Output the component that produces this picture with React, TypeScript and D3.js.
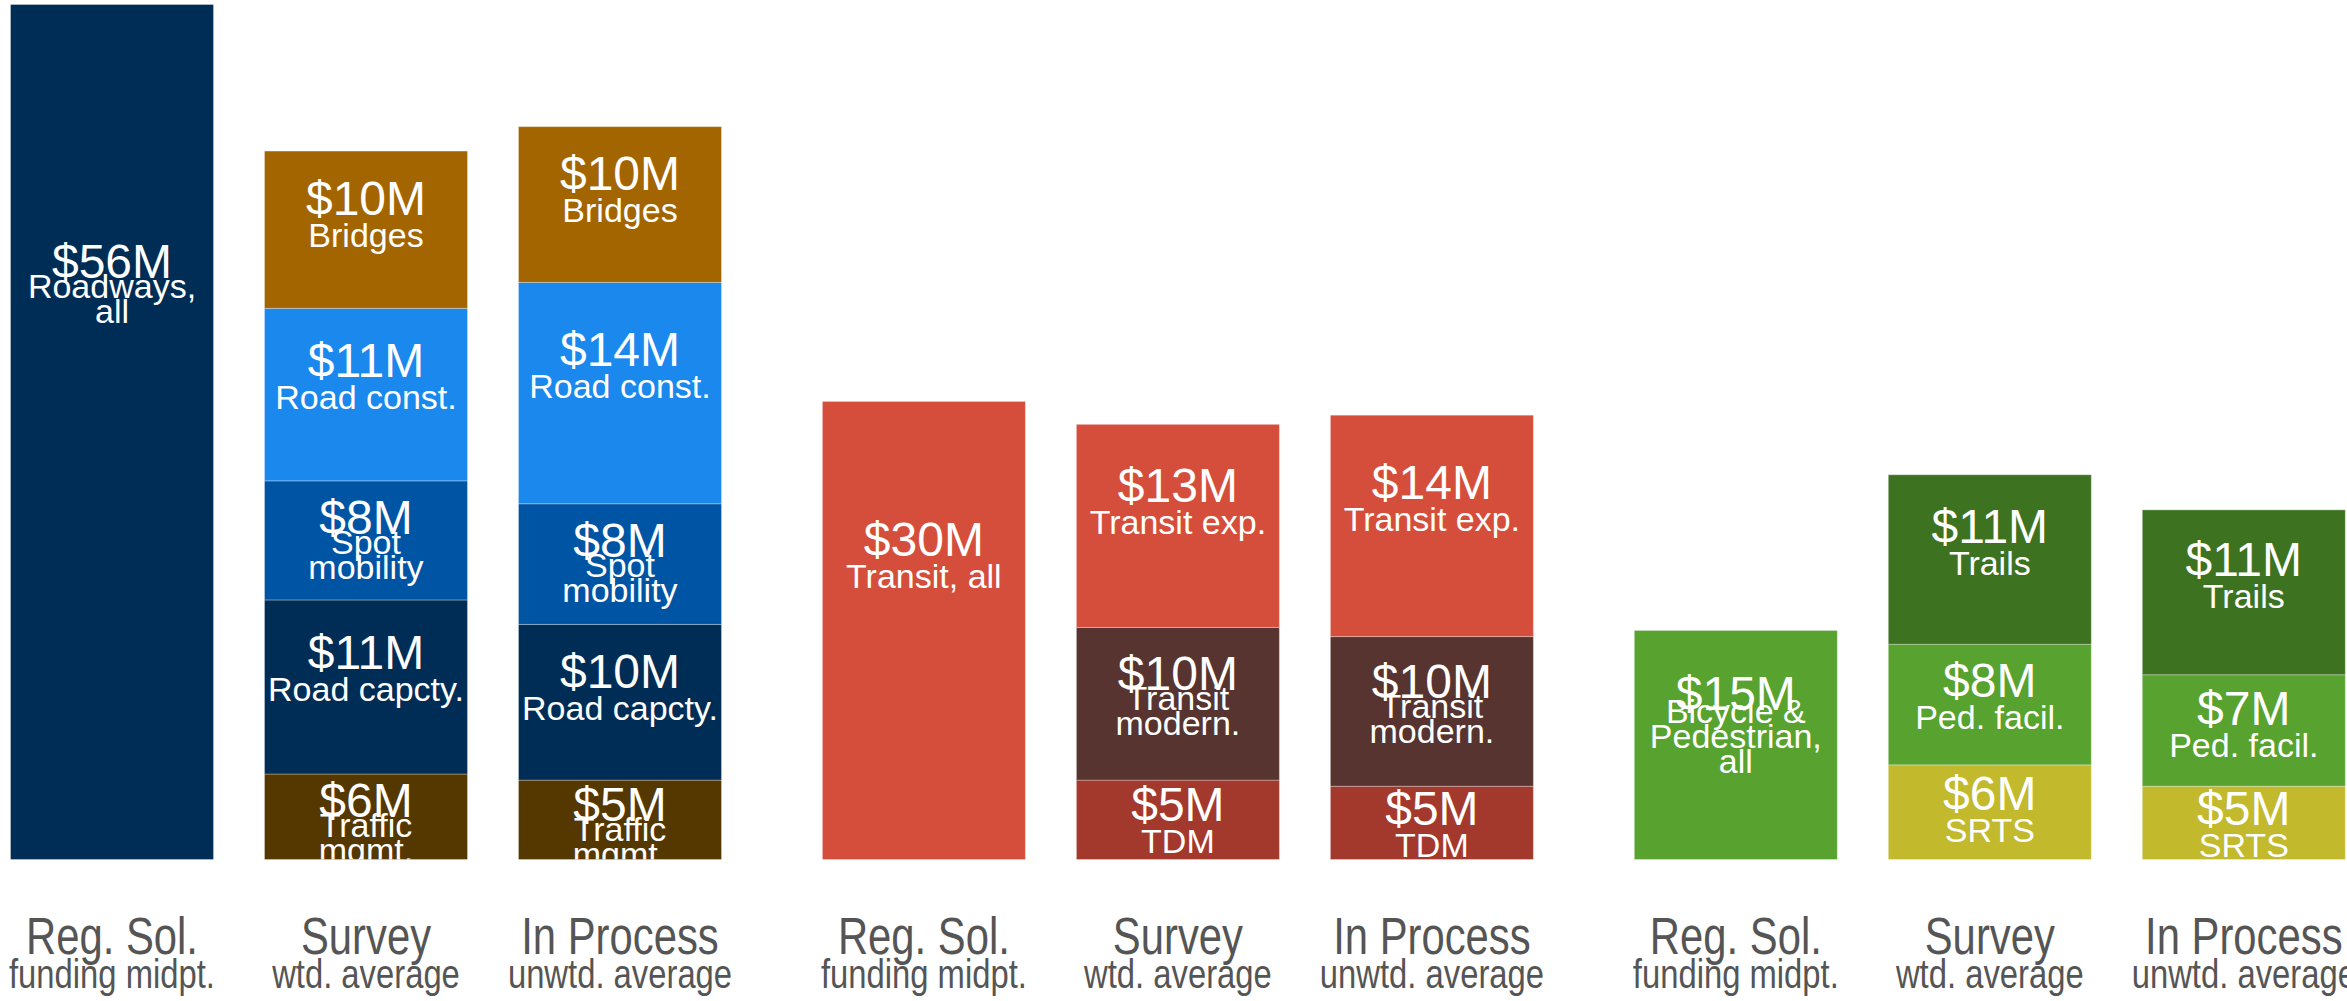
import * as d3 from "d3";

const groups = ["Roadways", "Transit", "Bike/Ped"];
const columns = ["Reg. Sol.", "Survey", "In Process"];
const columnSubs = ["funding midpt.", "wtd. average", "unwtd. average"];

// stacks are listed bottom to top
const roadwaysNames = [["Roadways,\nall"], ["Traffic\nmgmt.", "Road capcty.", "Spot\nmobility", "Road const.", "Bridges"]];
const roadwaysRegSol = [56];
const roadwaysSurvey = [5.6, 11.4, 7.8, 11.3, 10.3];
const roadwaysInProcess = [5.2, 10.2, 7.9, 14.5, 10.2];

const transitNames = [["Transit, all"], ["TDM", "Transit\nmodern.", "Transit exp."]];
const transitRegSol = [30];
const transitSurvey = [5.2, 10.0, 13.3];
const transitInProcess = [4.8, 9.8, 14.5];

const bikeNames = [["Bicycle &\nPedestrian,\nall"], ["SRTS", "Ped. facil.", "Trails"]];
const bikeRegSol = [15];
const bikeSurvey = [6.2, 7.9, 11.1];
const bikeInProcess = [4.8, 7.3, 10.8];

const colors = {
  "Roadways,\nall": "#002D56",
  Bridges: "#A36500",
  "Road const.": "#1B88EE",
  "Spot\nmobility": "#0054A4",
  "Road capcty.": "#002D56",
  "Traffic\nmgmt.": "#553700",
  "Transit, all": "#D54E3C",
  "Transit exp.": "#D54E3C",
  "Transit\nmodern.": "#573430",
  TDM: "#A3392C",
  "Bicycle &\nPedestrian,\nall": "#58A22F",
  Trails: "#3D7221",
  "Ped. facil.": "#58A22F",
  SRTS: "#C2B92C",
};

const groupData = [
  { names: roadwaysNames, bars: [roadwaysRegSol, roadwaysSurvey, roadwaysInProcess] },
  { names: transitNames, bars: [transitRegSol, transitSurvey, transitInProcess] },
  { names: bikeNames, bars: [bikeRegSol, bikeSurvey, bikeInProcess] },
];

// round half to even, as the source labels do ($14.5M -> $14M)
function fmt(v: number) {
  const f = Math.floor(v);
  const d = v - f;
  const r = d > 0.5 ? f + 1 : d < 0.5 ? f : f % 2 === 0 ? f : f + 1;
  return `$${r}M`;
}

const width = 2347;
const height = 1001;
const baseY = 859.5;
const font = "'Liberation Sans', Arial, sans-serif";

const nameOffsets = { 1: [32], 2: [20, 45], 3: [13, 38, 63] };

export default function App() {
  const x0 = d3.scaleBand(groups, [10.5, 2345.3]).paddingInner(0.1243).paddingOuter(0);
  const x1 = d3.scaleBand(columns, [0, x0.bandwidth()]).paddingInner(0.2008).paddingOuter(0);
  const y = d3.scaleLinear([0, 56], [baseY, 4.5]);

  const segs = [];
  const ticks = [];
  groupData.forEach((g, gi) => {
    g.bars.forEach((vals, bi) => {
      const names = bi === 0 ? g.names[0] : g.names[1];
      const bx = x0(groups[gi])! + x1(columns[bi])!;
      const stacked = d3.cumsum(vals);
      vals.forEach((v, si) => {
        const y0 = y(stacked[si] - v);
        const y1 = y(stacked[si]);
        segs.push({ key: `${gi}-${bi}-${si}`, x: bx, top: y1, h: y0 - y1, v, name: names[si] });
      });
      ticks.push({ key: `${gi}-${bi}`, cx: bx + x1.bandwidth() / 2, col: bi });
    });
  });

  const bw = x1.bandwidth();

  return (
    <svg
      width={width}
      height={height}
      style={{ position: "absolute", left: 0, top: 0, display: "block", background: "#fff" }}
    >
      <defs>
        <clipPath id="plot">
          <rect x={0} y={0} width={width} height={baseY} />
        </clipPath>
      </defs>
      <g>
        {segs.map((s) => (
          <rect
            key={s.key}
            x={s.x}
            y={s.top}
            width={bw}
            height={s.h}
            fill={colors[s.name]}
            stroke="#ffffff"
            strokeOpacity={0.3}
            strokeWidth={1}
          />
        ))}
      </g>
      <g clipPath="url(#plot)" fill="#fff" fontFamily={font} textAnchor="middle">
        {segs.map((s) => {
          const lines = s.name.split("\n");
          const vy = s.top + 0.3 * s.h + 17 - (lines.length > 2 ? 6 : 0);
          const offs = nameOffsets[lines.length];
          const cx = s.x + bw / 2;
          return (
            <g key={s.key}>
              <text x={cx} y={vy} fontSize={48}>
                {fmt(s.v)}
              </text>
              {lines.map((l, i) => (
                <text key={i} x={cx} y={vy + offs[i]} fontSize={34}>
                  {l}
                </text>
              ))}
            </g>
          );
        })}
      </g>
      <g fill="#555" fontFamily={font} textAnchor="middle">
        {ticks.map((t) => (
          <g key={t.key}>
            <text transform={`translate(${t.cx},954) scale(0.82,1)`} fontSize={51}>
              {columns[t.col]}
            </text>
            <text transform={`translate(${t.cx},988) scale(0.82,1)`} fontSize={40}>
              {columnSubs[t.col]}
            </text>
          </g>
        ))}
      </g>
    </svg>
  );
}
